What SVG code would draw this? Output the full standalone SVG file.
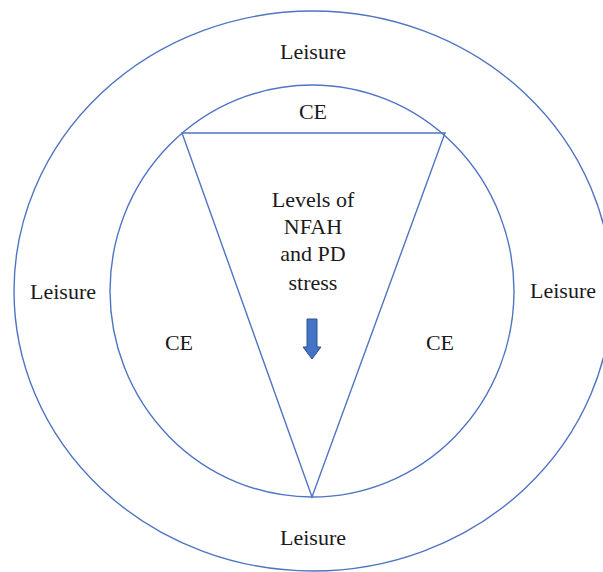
<svg xmlns="http://www.w3.org/2000/svg" width="603" height="572" viewBox="0 0 603 572">
<style>
.ln{fill:none;stroke:#4F74C2;stroke-width:1.4}
.t{font-family:'Liberation Serif','DejaVu Serif','Times New Roman',serif;font-size:22px;fill:#1a1a1a;text-anchor:middle}
</style>
<rect width="603" height="572" fill="#ffffff"/>
<g id="outer-ring">
<ellipse class="ln" cx="313" cy="291" rx="299" ry="280"/>
<text class="t" x="313" y="59">Leisure</text>
<text class="t" x="63" y="299">Leisure</text>
<text class="t" x="563" y="298">Leisure</text>
<text class="t" x="313" y="545">Leisure</text>
</g>
<g id="inner-ring">
<ellipse class="ln" cx="312" cy="291" rx="202" ry="206"/>
<text class="t" x="313" y="119">CE</text>
<text class="t" x="179" y="350">CE</text>
<text class="t" x="440" y="350">CE</text>
</g>
<g id="triangle">
<polygon class="ln" points="182,133 445,133 312,497"/>
<text class="t" x="313" y="207">Levels of</text>
<text class="t" x="313" y="234">NFAH</text>
<text class="t" x="313" y="261">and PD</text>
<text class="t" x="313" y="290">stress</text>
</g>
<g id="connectors">
<path d="M307,319 H317 V347 H321 L312,359 L303,347 H307 Z" fill="#4472C4" stroke="#2F5597" stroke-width="1"/>
</g>
</svg>
